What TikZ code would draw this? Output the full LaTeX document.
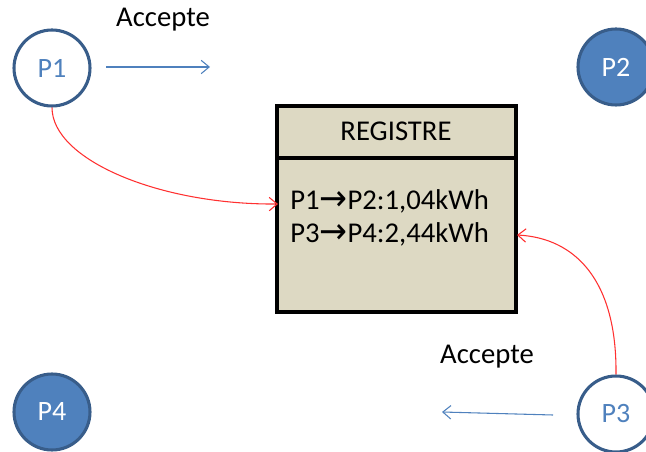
\documentclass[tikz,border=0pt]{standalone}
\usepackage{fontspec}
\usepackage{graphicx}
\setmainfont{Carlito}
\newfontfamily\symfont{DejaVu Sans}
\usetikzlibrary{arrows.meta}
\definecolor{pfill}{HTML}{4F81BD}
\definecolor{pline}{HTML}{385D8A}
\definecolor{boxfill}{HTML}{DDD9C3}
\definecolor{redl}{HTML}{FF3030}
\newlength{\pxu}
\setlength{\pxu}{0.75pt}
\tikzset{
  peer/.style={circle, minimum size=76\pxu, inner sep=0pt, line width=2.3pt, draw=pline, font=\fontsize{21}{25}\selectfont},
  peeropen/.style={peer, fill=white, text=pfill},
  peerfull/.style={peer, fill=pfill, text=white},
  msg/.style={draw=pfill, line width=0.8pt, -{Straight Barb[length=6pt,width=10pt]}},
  link/.style={draw=redl, line width=0.8pt, -{Straight Barb[length=6pt,width=10pt]}},
  lbl/.style={font=\fontsize{21.5}{26}\selectfont, inner sep=0pt, anchor=base},
}
\newcommand{\rarr}{\raisebox{-0.5pt}{\scalebox{1.25}[1.35]{\symfont\fontsize{20}{24}\selectfont→}}}
\begin{document}
\begin{tikzpicture}[x=0.75pt,y=-0.75pt]
\useasboundingbox (0,0) rectangle (646,452);
\clip (0,0) rectangle (646,452);
% register box
\node[draw=black, line width=2.3pt, fill=boxfill, minimum width=239\pxu, minimum height=206\pxu, inner sep=0pt] (reg) at (396.5,209) {};
\coordinate (divL) at (277,158);
\coordinate (divR) at (516,158);
\draw[line width=2.3pt] (divL) -- (divR);
\node[lbl] (title) at (396,141) {REGISTRE};
\node[lbl, anchor=base west] (l1) at (290,210) {P1\rarr P2:1,04kWh};
\node[lbl, anchor=base west] (l2) at (290,243) {P3\rarr P4:2,44kWh};
\coordinate (in1) at (278,204);
\coordinate (in3) at (517,235);
% peers
\node[peeropen] (p1) at (52,68) {P1};
\node[peerfull] (p2) at (616,67) {P2};
\node[peeropen] (p3) at (616,414) {P3};
\node[peerfull] (p4) at (52,412) {P4};
% accept arrows
\coordinate (a1s) at (106,67);
\coordinate (a1e) at (210,67);
\coordinate (a3s) at (553,415);
\coordinate (a3e) at (442,412);
\draw[msg] (a1s) -- (a1e);
\draw[msg] (a3s) -- (a3e);
\node[lbl] (acc1) at (163,27) {Accepte};
\node[lbl] (acc3) at (487,363) {Accepte};
% red links
\draw[link] (p1.south) .. controls (52,160) and (160,205) .. (in1);
\draw[link] (p3.north) .. controls (617,280) and (575,238) .. (in3);
\end{tikzpicture}
\end{document}
